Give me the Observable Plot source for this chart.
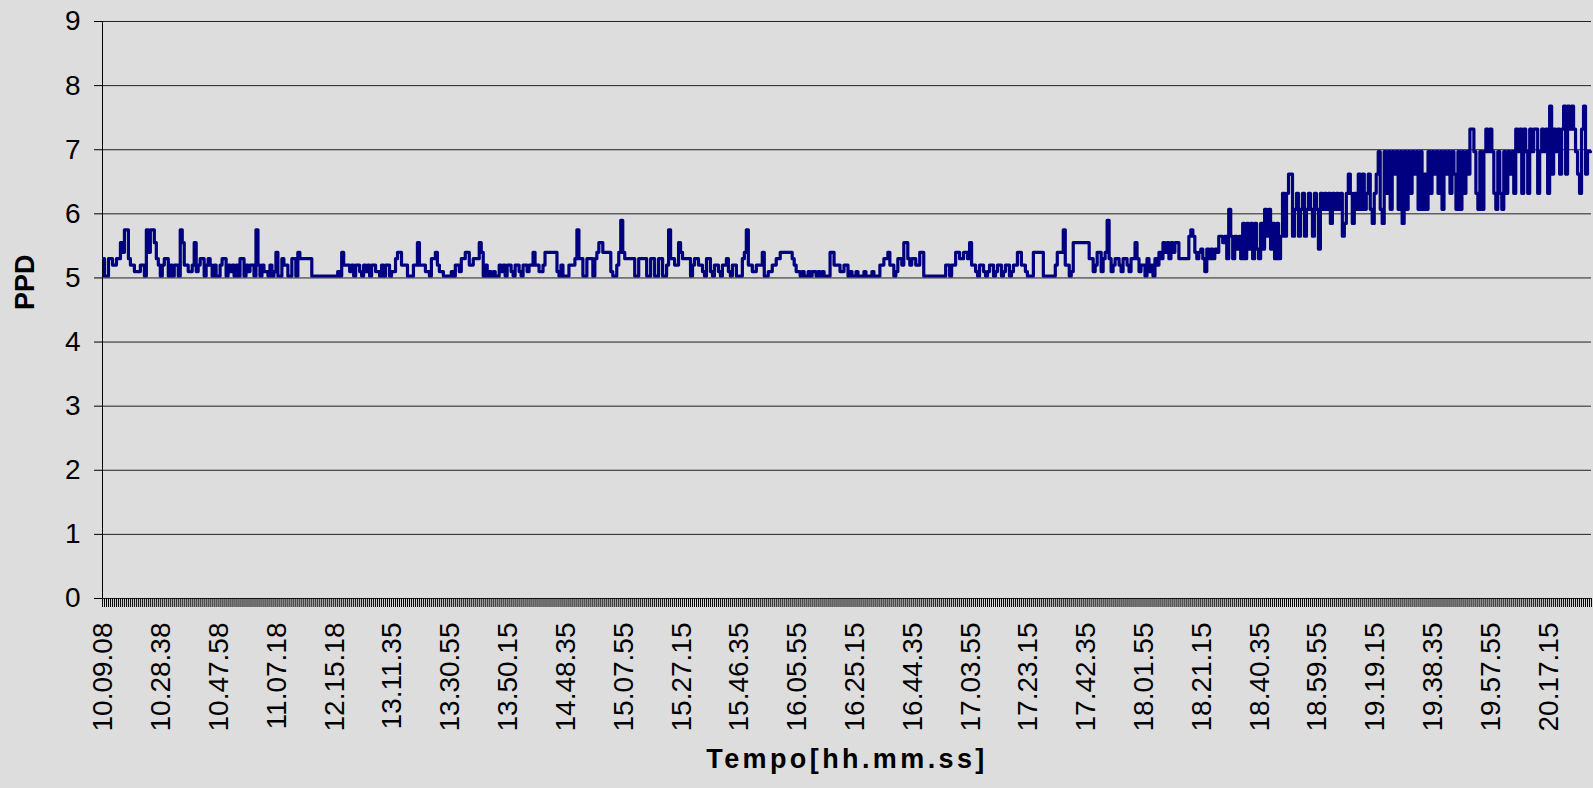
<!DOCTYPE html>
<html><head><meta charset="utf-8">
<script src="https://cdn.jsdelivr.net/npm/d3@7"></script>
<script src="https://cdn.jsdelivr.net/npm/@observablehq/plot@0.6"></script>
<style>
html,body{margin:0;padding:0;background:#DDDDDD;}
#chart{width:1593px;height:788px;}
</style></head><body><div id="chart"></div>
<script>
// Category tick labels (every 29th sample shown)
const tickLabels = ["10.09.08","10.28.38","10.47.58","11.07.18","12.15.18","13.11.35","13.30.55","13.50.15","14.48.35","15.07.55","15.27.15","15.46.35","16.05.55","16.25.15","16.44.35","17.03.55","17.23.15","17.42.35","18.01.55","18.21.15","18.40.35","18.59.55","19.19.15","19.38.35","19.57.55","20.17.15"];
const labelEvery = 29;
const yTicks = [0,1,2,3,4,5,6,7,8,9];

// PPD levels observed in the picture (value per code character)
const levels = {"0":5.03,"1":5.1,"2":5.2,"3":5.3,"4":5.4,"H":5.45,"5":5.55,"G":5.65,"6":5.75,"I":5.85,"7":5.9,"8":6.07,"A":6.32,"B":6.62,"C":6.97,"D":7.32,"E":7.68};
// PPD samples, one code per category, grouped by labelled interval
const ppdCodes = [
"30033223354663221112206466532",
"02330202206522112512330232020",
"02330212020330212206202110201",
"40032200330433333300000000000",
"00104222120221021202211020220",
"11344222000225222110334211000",
"01022133442233354020101002120",
"22102210221224221124444441020",
"00222363300333034554444100247",
"43333300333300330033002633225",
"43333023322103310221022310220",
"00346221122240011223344444432",
"11010010110101000442221122010",
"01000100010002233422013325532",
"33224400000000000220224433443",
"52210221012201220122012244221",
"00044444000000244462201555555",
"55331244134731233213321335312",
"20312032435453545533333G6G434",
"H31H3H3H4GG5G38G3GHG3I3IHI3IH",
"3IH8G8HI3I3GAGABBG8AG8AG8A8GA",
"8HA8A8AIA8A8AGIABAIA8B8B8AB8I",
"ABC8ICAC8CBC8CIC8CACBC8C8B8CA",
"CBCAC8CBCACB8C8CACBDDCA8C8CDC",
"DCA8CA8CACBCADCDADCADCDDACDCD",
"AEBDCDBDEBEDEDCBADEBCC"
];

const ppd = ppdCodes.join("").split("").map(c => levels[c]);
const n = ppd.length;
const data = ppd.map((v, i) => ({i, v}));
const boundaries = d3.range(-0.5, n, 1);
const labelTicks = tickLabels.map((_, k) => k * labelEvery);

const chart = Plot.plot({
  width: 1593,
  height: 788,
  marginLeft: 102,
  marginRight: 2,
  marginTop: 21,
  marginBottom: 190,
  style: {background: "#DDDDDD", fontFamily: "'Liberation Sans', Arial, sans-serif", color: "#000", overflow: "visible"},
  x: {type: "linear", domain: [-0.5, n - 0.5]},
  y: {domain: [0, 9]},
  marks: [
    Plot.gridY(yTicks, {stroke: "#222", strokeOpacity: 1}),
    Plot.axisY(yTicks, {tickSize: 8, tickPadding: 14, fontSize: 28, label: null, tickFormat: d3.format("d")}),
    Plot.axisX(boundaries, {tickSize: 9, tickFormat: () => "", label: null}),
    Plot.axisX(labelTicks, {tickSize: 0, tickPadding: 24, tickRotate: -90, fontSize: 28, label: null,
      tickFormat: i => tickLabels[Math.round(i / labelEvery)]}),
    Plot.ruleX([-0.5], {stroke: "#000"}),
    Plot.lineY(data, {x: "i", y: "v", stroke: "#000080", strokeWidth: 3.2, curve: "step"}),
    Plot.text(["PPD"], {frameAnchor: "left", dx: -77, rotate: -90, fontSize: 27, fontWeight: "bold", text: d => d}),
    Plot.text(["Tempo[hh.mm.ss]"], {frameAnchor: "bottom", dy: 169, fontSize: 27, fontWeight: "bold", text: d => d, className: "xtitle"})
  ]
});
document.getElementById("chart").appendChild(chart);
d3.select(chart).selectAll(".xtitle text").style("letter-spacing", "3.4px");
</script>
</body></html>
